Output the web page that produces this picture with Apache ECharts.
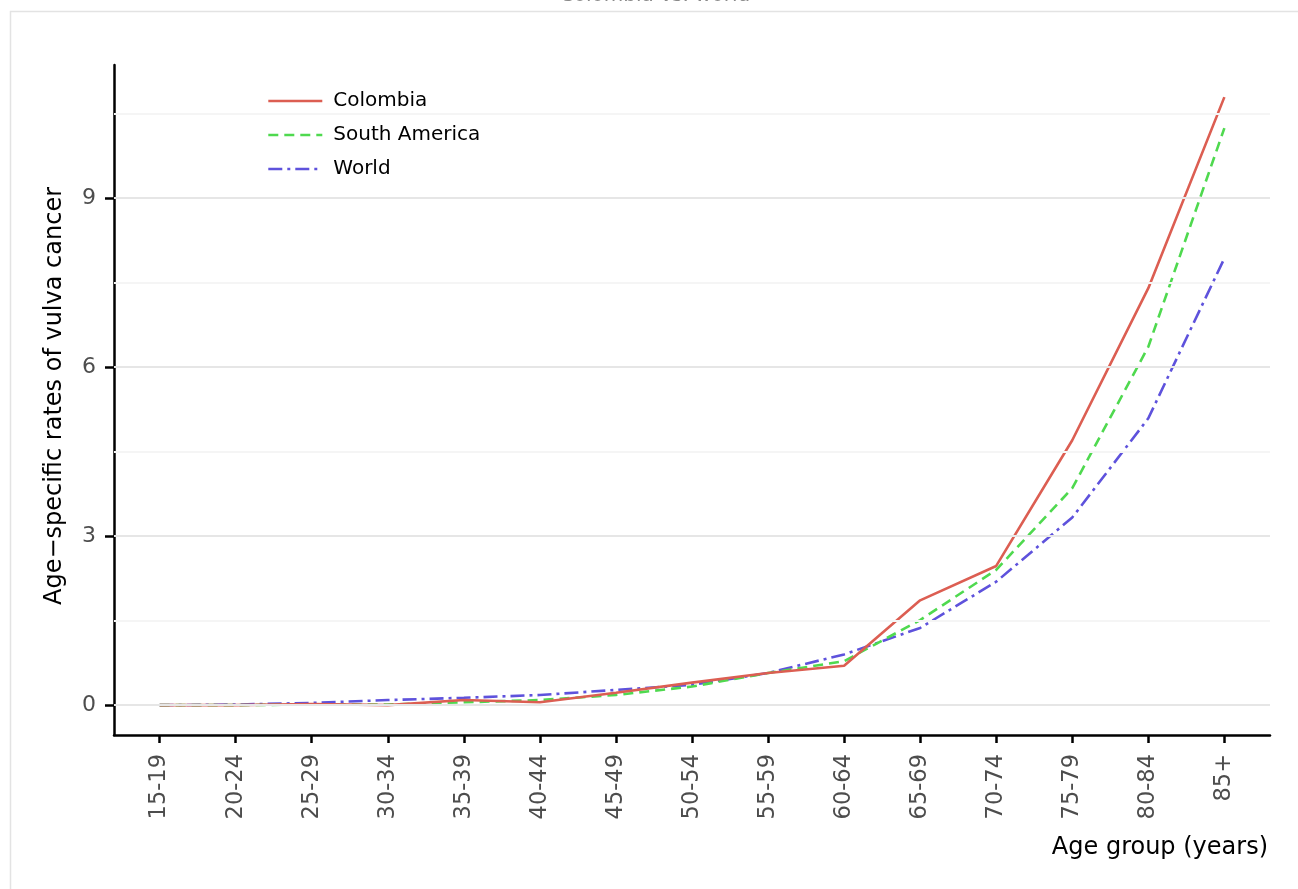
<!DOCTYPE html>
<html>
<head>
<meta charset="utf-8">
<script src="https://cdn.jsdelivr.net/npm/echarts@6/dist/echarts.min.js"></script>
<style>
html,body{margin:0;padding:0;background:#fff;}
#chart{width:1298px;height:889px;}
</style>
</head>
<body>
<div id="chart"></div>
<script>
const ageGroups = ['15-19','20-24','25-29','30-34','35-39','40-44','45-49','50-54','55-59','60-64','65-69','70-74','75-79','80-84','85+'];
const colombia = [0, 0, 0.02, 0, 0.09, 0.05, 0.22, 0.40, 0.57, 0.70, 1.86, 2.47, 4.70, 7.40, 10.79];
const southAmerica = [0, 0, 0.01, 0.01, 0.05, 0.09, 0.18, 0.33, 0.57, 0.78, 1.51, 2.40, 3.85, 6.36, 10.24];
const world = [0, 0.01, 0.04, 0.09, 0.13, 0.18, 0.27, 0.36, 0.57, 0.90, 1.37, 2.19, 3.33, 5.09, 7.93];
const yMajorTicks = [0, 3, 6, 9];
const yMinorTicks = [1.5, 4.5, 7.5, 10.5];
const seriesNames = ['Colombia', 'South America', 'World'];

const xIdx = ageGroups.map((_, i) => i);
const toPts = arr => arr.map((v, i) => [i, v]);
const FONT = '"DejaVu Sans", sans-serif';

const chart = echarts.init(document.getElementById('chart'));
chart.setOption({
  animation: false,
  backgroundColor: '#ffffff',
  grid: { left: 114, right: 28, top: 65, bottom: 154, containLabel: false },
  graphic: [
    { type: 'rect', shape: { x: 10.5, y: 11.5, width: 1320, height: 920 }, style: { fill: 'none', stroke: '#e3e3e3', lineWidth: 1.5 }, silent: true },
    { type: 'text', x: 655, y: 5.5, style: { text: 'Colombia vs. world', fill: '#8a8a8a', font: '20px ' + FONT, textAlign: 'center', textVerticalAlign: 'bottom' }, silent: true },
    { type: 'text', x: 1268, y: 848, style: { text: 'Age group (years)', fill: '#000', font: '24px ' + FONT, textAlign: 'right', textVerticalAlign: 'middle' }, silent: true },
    { type: 'text', x: 55, y: 396, rotation: Math.PI / 2, style: { text: 'Age\u2212specific rates of vulva cancer', fill: '#000', font: '24px ' + FONT, textAlign: 'center', textVerticalAlign: 'middle' }, silent: true }
  ],
  legend: {
    orient: 'vertical',
    left: 262,
    top: 86,
    itemWidth: 54,
    itemHeight: 14,
    itemGap: 14,
    itemStyle: { opacity: 0 },
    lineStyle: { width: 2.6 },
    textStyle: { fontFamily: FONT, fontSize: 20, lineHeight: 20, color: '#000', padding: [0, 0, 0, 6] },
    data: seriesNames
  },
  xAxis: {
    type: 'value',
    min: -0.6,
    max: 14.6,
    axisLine: { show: true, onZero: false, lineStyle: { color: '#000', width: 2.5 } },
    axisTick: { show: true, length: 8, customValues: xIdx, lineStyle: { color: '#000', width: 2.5 } },
    axisLabel: { customValues: xIdx, rotate: 90, margin: 19, color: '#4d4d4d', fontFamily: FONT, fontSize: 22.5, formatter: v => ageGroups[Math.round(v)] },
    splitLine: { show: false }
  },
  yAxis: {
    type: 'value',
    min: -0.53,
    max: 11.36,
    axisLine: { show: true, onZero: false, lineStyle: { color: '#000', width: 2.5 } },
    axisTick: { show: true, length: 9, customValues: yMajorTicks, lineStyle: { color: '#000', width: 2.5 } },
    axisLabel: { customValues: yMajorTicks, margin: 18, color: '#4d4d4d', fontFamily: FONT, fontSize: 22 },
    splitLine: { show: false }
  },
  series: [
    {
      name: 'grid', type: 'line', data: [], z: 1, silent: true,
      markLine: {
        silent: true, symbol: 'none', label: { show: false }, animation: false,
        data: yMajorTicks.map(v => ({ yAxis: v, lineStyle: { color: '#e6e6e6', width: 2.2, type: 'solid' } }))
          .concat(yMinorTicks.map(v => ({ yAxis: v, lineStyle: { color: '#f5f5f5', width: 1.8, type: 'solid' } })))
      }
    },
    { name: 'Colombia', type: 'line', data: toPts(colombia), symbol: 'none', z: 4,
      lineStyle: { color: '#DC5E52', width: 2.6, type: 'solid' }, itemStyle: { color: '#DC5E52' } },
    { name: 'South America', type: 'line', data: toPts(southAmerica), symbol: 'none', z: 3,
      lineStyle: { color: '#4FD94F', width: 2.6, type: [10, 6] }, itemStyle: { color: '#4FD94F' } },
    { name: 'World', type: 'line', data: toPts(world), symbol: 'none', z: 2,
      lineStyle: { color: '#5E52DC', width: 2.6, type: [14, 5, 3, 5] }, itemStyle: { color: '#5E52DC' } }
  ]
});
</script>
</body>
</html>
